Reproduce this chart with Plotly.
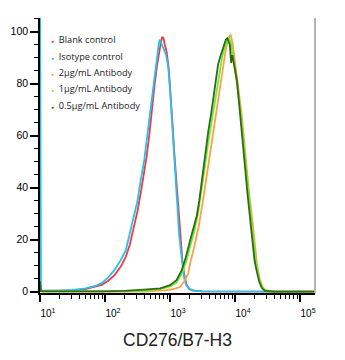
import plotly.graph_objects as go

# Fluorescence intensity positions (log10 units) and normalised counts (% of max)
blank_log = [1.02, 1.3, 1.5, 1.7, 1.85, 1.95, 2.05, 2.15, 2.25, 2.32, 2.38, 2.44, 2.5, 2.55, 2.6, 2.64,
             2.68, 2.72, 2.76, 2.8, 2.83, 2.86, 2.88, 2.9, 2.92, 2.95, 2.98, 3.01, 3.04, 3.07, 3.1,
             3.13, 3.16, 3.19, 3.22, 3.25, 3.29, 3.35, 3.5, 5.23]
blank_val = [0.3, 0.3, 0.5, 1.0, 1.8, 2.6, 4.2, 6.5, 10, 13.5, 18, 24, 31, 38, 45, 52,
             60, 70, 79, 87, 92, 96, 98, 97.5, 95, 92, 86, 76, 64, 52, 41,
             30, 20, 12, 6.5, 3, 1.2, 0.4, 0.1, 0]

isotype_log = [1.0, 1.015, 1.3, 1.5, 1.7, 1.85, 1.95, 2.05, 2.15, 2.25, 2.32, 2.38, 2.44, 2.5, 2.55,
               2.6, 2.63, 2.67, 2.71, 2.75, 2.79, 2.82, 2.84, 2.86, 2.88, 2.91, 2.94, 2.97, 3.0,
               3.03, 3.06, 3.09, 3.11, 3.14, 3.17, 3.19, 3.22, 3.25, 3.3, 3.38, 3.5, 5.23]
isotype_val = [125, 0.4, 0.4, 0.7, 1.3, 2.2, 3.3, 5.5, 8.5, 12.5, 16, 22, 28, 35, 43,
               50, 56, 64, 74, 82, 89, 94, 97, 96, 95, 93, 91, 87, 78,
               66, 52, 41, 33, 22, 15, 10, 5, 2.5, 1, 0.4, 0.1, 0]

ab2_log = [1.02, 2.6, 2.9, 3.05, 3.15, 3.22, 3.28, 3.31, 3.37, 3.44, 3.5, 3.56, 3.62, 3.69, 3.73,
           3.77, 3.81, 3.85, 3.89, 3.93, 3.96, 4.0, 4.05, 4.1, 4.14, 4.18, 4.22, 4.26, 4.3,
           4.34, 4.38, 4.42, 4.47, 4.6, 5.23]
ab2_val = [0, 0, 0.5, 1, 1.8, 4, 7, 11, 17, 25, 34, 44, 54, 65, 72,
           79, 86, 92, 97, 99, 96, 88, 79, 68.5, 58, 47, 37, 28.8, 18,
           10, 5, 2, 0.5, 0, 0]

ab1_log = [1.02, 2.6, 2.85, 3.0, 3.1, 3.18, 3.24, 3.31, 3.37, 3.43, 3.48, 3.53, 3.58, 3.63, 3.68,
           3.72, 3.76, 3.8, 3.84, 3.88, 3.91, 3.94, 3.98, 4.03, 4.08, 4.12, 4.16, 4.2, 4.24,
           4.28, 4.32, 4.36, 4.4, 4.45, 4.6, 5.23]
ab1_val = [0, 0.3, 1, 2, 3.5, 7, 11, 17, 23, 30, 38, 47, 56, 64, 72,
           79, 85, 90, 94, 96.5, 98, 95, 89, 80, 70, 60, 49, 39, 30,
           20, 12, 6, 2.5, 0.7, 0, 0]

ab05_log = [1.0, 1.015, 2.0, 2.3, 2.6, 2.85, 3.0, 3.1, 3.18, 3.24, 3.31, 3.36, 3.41, 3.45, 3.49,
            3.54, 3.59, 3.63, 3.67, 3.71, 3.74, 3.78, 3.82, 3.86, 3.88, 3.92, 3.94, 3.96,
            4.03, 4.08, 4.12, 4.15, 4.19, 4.23, 4.27, 4.3, 4.33, 4.37, 4.41, 4.46, 4.6, 5.23]
ab05_val = [4, 0.2, 0.1, 0.3, 0.8, 1.3, 2.5, 4.4, 8.3, 13, 19.8, 24.5, 29, 35, 43,
            52, 62, 68, 75, 82, 87.5, 91, 94, 97, 97.5, 95, 88, 91,
            81, 68.5, 58, 49, 38, 28.8, 18, 12, 8.3, 4, 1.5, 0.3, 0, 0]

series = [
    ("Blank control", "#f4383c", blank_log, blank_val),
    ("Isotype control", "#22c3f0", isotype_log, isotype_val),
    ("2μg/mL Antibody", "#ffa044", ab2_log, ab2_val),
    ("1μg/mL Antibody", "#6ced3a", ab1_log, ab1_val),
    ("0.5μg/mL Antibody", "#2f6b12", ab05_log, ab05_val),
]

decades = [1, 2, 3, 4, 5]
tick_text = ["10<sup>%d</sup>" % d for d in decades]

fig = go.Figure()
for name, color, lx, vals in series:
    fig.add_trace(go.Scatter(
        x=[10 ** v for v in lx], y=vals, mode="lines", name=name,
        line=dict(color=color, width=1.8), showlegend=False,
    ))

# Legend drawn as a list of coloured bullets with labels
legend_top_px = 40
legend_step_px = 16.3
plot_top, plot_bottom = 18, 293
for i, (name, color, _, _) in enumerate(series):
    ypx = legend_top_px + i * legend_step_px
    fig.add_annotation(
        xref="paper", yref="paper", x=(49 - 40) / 275, y=(plot_bottom - ypx) / (plot_bottom - plot_top),
        xanchor="left", yanchor="middle", showarrow=False,
        text="<span style='color:%s;font-size:5px'>●</span>&nbsp; %s" % (color, name),
        font=dict(family="Open Sans", size=9.2, color="#1a1a1a"),
    )

minor_vals = [m * 10 ** d for d in range(1, 6) for m in range(2, 10)]

fig.update_xaxes(
    type="log", range=[1.0, 5.23],
    tickmode="array", tickvals=[10 ** d for d in decades], ticktext=tick_text,
    ticks="outside", ticklen=7, tickwidth=2, tickcolor="black",
    minor=dict(tickmode="array", tickvals=minor_vals, ticks="outside", ticklen=4,
               tickwidth=1.3, tickcolor="black"),
    ticklabelshift=8, ticklabelstandoff=3,
    showline=True, linecolor="black", linewidth=1.5,
    showgrid=False, zeroline=False,
    tickfont=dict(family="Liberation Sans", size=10, color="black"),
    title=dict(text="CD276/B7-H3", font=dict(family="Liberation Sans", size=17.5, color="#222222"),
               standoff=16),
)
fig.update_yaxes(
    range=[-0.5, 105.3],
    tickmode="array", tickvals=[0, 20, 40, 60, 80, 100],
    ticks="outside", ticklen=8, tickwidth=2, tickcolor="black",
    minor=dict(dtick=5, ticks="outside", ticklen=4, tickwidth=1.3, tickcolor="black"),
    showline=True, linecolor="black", linewidth=1.5,
    showgrid=False, zeroline=False,
    tickfont=dict(family="Liberation Sans", size=10.5, color="black"),
)

# Light frame edge on the right-hand side of the plotting area
fig.add_shape(type="line", xref="paper", yref="paper", x0=1, x1=1, y0=0, y1=1,
              line=dict(color="#b4b4b4", width=2))

fig.update_layout(
    width=345, height=360,
    margin=dict(l=40, r=30, t=18, b=67),
    paper_bgcolor="white", plot_bgcolor="white",
)

fig.write_html("out.html")
